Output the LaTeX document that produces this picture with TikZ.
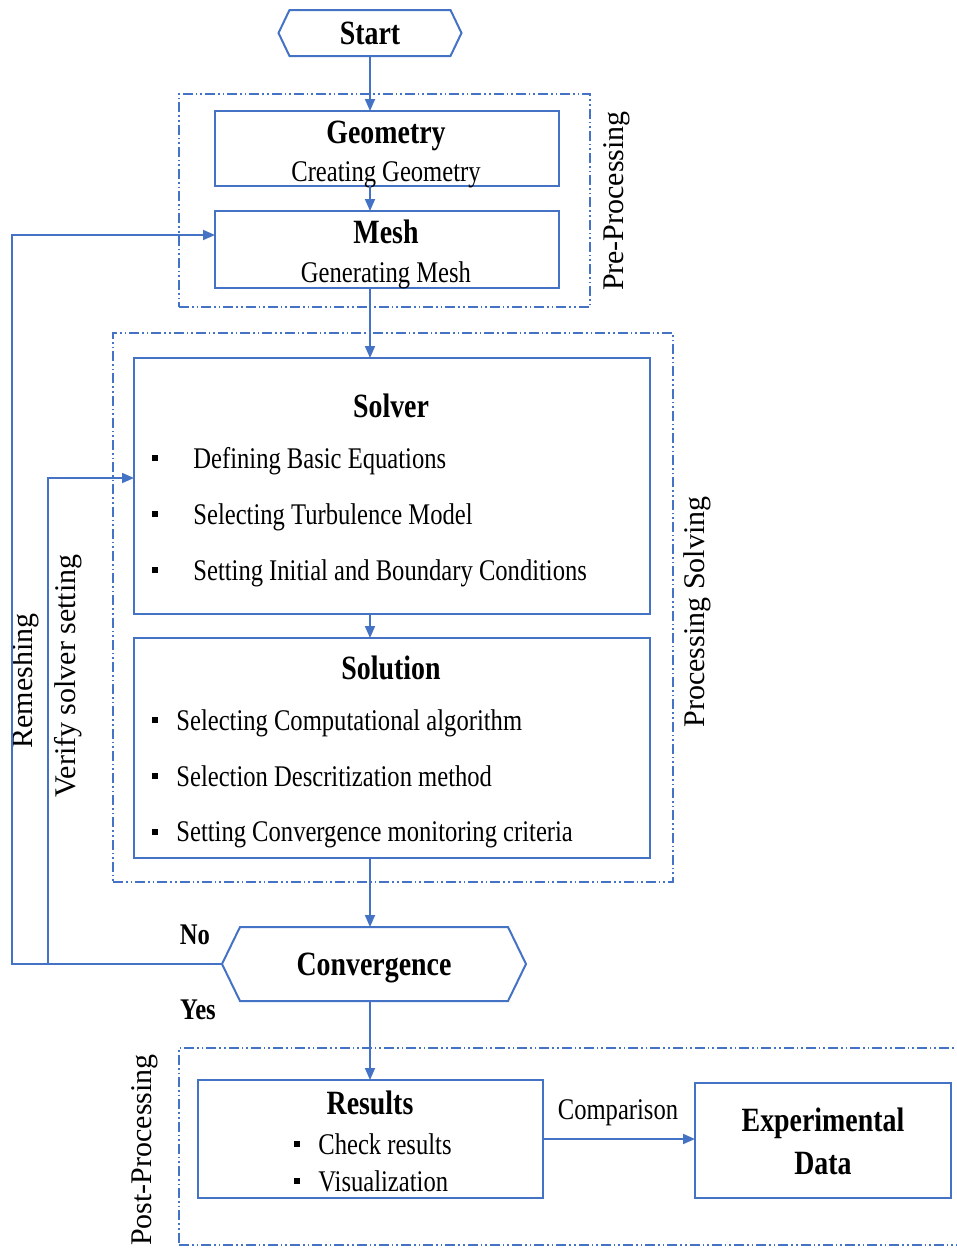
\documentclass[tikz,border=0pt]{standalone}
\usepackage{fontspec}
\setmainfont{Liberation Serif}[FakeStretch=0.82]
\newfontfamily\sideserif{Liberation Serif}
\usetikzlibrary{arrows.meta}
\definecolor{flowblue}{HTML}{4472C4}

\begin{document}
\begin{tikzpicture}[x=0.5pt,y=-0.5pt,
box/.style={draw=flowblue,line width=1pt,anchor=north west,outer sep=0pt,inner sep=0pt},
grp/.style={draw=flowblue,line width=0.9pt,anchor=north west,outer sep=0pt,inner sep=0pt,
  dash pattern=on 5pt off 1.5pt on 0.8pt off 1.5pt on 0.8pt off 1.5pt},
hexa/.style={outer sep=0pt,inner sep=0pt},
arr/.style={flowblue,line width=0.9pt,-{Triangle[length=6pt,width=5pt]}},
tit/.style={font=\fontsize{17}{20}\selectfont\bfseries,text depth=0pt},
txt/.style={font=\fontsize{15}{18}\selectfont,text depth=0pt},
item/.style={txt,anchor=west,inner xsep=0pt},
side/.style={font=\fontsize{15}{18}\selectfont\sideserif,rotate=90},
bul/.style={fill=black,inner sep=0pt,minimum size=3.4pt}]
\useasboundingbox (0,0) rectangle (957,1249);
\node[grp,minimum width=205.5pt,minimum height=106.5pt] (pre) at (179,94) {};
\node[grp,minimum width=280pt,minimum height=274.5pt] (proc) at (113,333) {};
\node[grp,minimum width=393pt,minimum height=98.5pt] (post) at (179,1048) {};
\node[hexa,minimum width=91.5pt,minimum height=23pt,tit] (start) at (370,33) {Start};
\draw[flowblue,line width=1pt] (start.west)--([xshift=5.5pt]start.north west)--([xshift=-5.5pt]start.north east)
  --(start.east)--([xshift=-5.5pt]start.south east)--([xshift=5.5pt]start.south west)--cycle;
\node[box,minimum width=172pt,minimum height=37.5pt] (geom) at (215,111) {};
\node[box,minimum width=172pt,minimum height=38.5pt] (mesh) at (215,211) {};
\node[box,minimum width=258pt,minimum height=128pt] (solver) at (134,358) {};
\node[box,minimum width=258pt,minimum height=110pt] (solution) at (134,638) {};
\node[hexa,minimum width=152pt,minimum height=37pt,tit] (conv) at (374,964) {Convergence};
\draw[flowblue,line width=1pt] (conv.west)--([xshift=9pt]conv.north west)--([xshift=-9pt]conv.north east)
  --(conv.east)--([xshift=-9pt]conv.south east)--([xshift=9pt]conv.south west)--cycle;
\node[box,minimum width=172.5pt,minimum height=59pt] (results) at (198,1080) {};
\node[box,minimum width=128pt,minimum height=57.5pt] (exp) at (695,1083) {};
\node[tit] (geomt) at (386,132) {Geometry};
\node[txt] (geoms) at (386,172) {Creating Geometry};
\node[tit] (mesht) at (386,232) {Mesh};
\node[txt] (meshs) at (386,272) {Generating Mesh};
\node[tit] (solvert) at (391,406) {Solver};
\foreach \y/\t [count=\i] in {458/Defining Basic Equations,514/Selecting Turbulence Model,570/Setting Initial and Boundary Conditions}{
  \node[bul] (sb\i) at (155,\y) {};
  \node[item] (si\i) at (193,\y) {\t};}
\node[tit] (solutiont) at (391,668) {Solution};
\foreach \y/\t [count=\i] in {720/Selecting Computational algorithm,776/Selection Descritization method,832/Setting Convergence monitoring criteria}{
  \node[bul] (ub\i) at (155,\y) {};
  \node[item] (ui\i) at (176,\y) {\t};}
\node[tit] (resultst) at (370,1103) {Results};
\foreach \y/\t [count=\i] in {1144/Check results,1181/Visualization}{
  \node[bul] (rb\i) at (297,\y) {};
  \node[item] (ri\i) at (318,\y) {\t};}
\node[tit] (expt) at (823,1120) {Experimental};
\node[tit] (exps) at (823,1163) {Data};
\node[txt] (cmp) at (618,1110) {Comparison};
\node[tit,font=\fontsize{15}{18}\selectfont\bfseries] (no) at (195,935) {No};
\node[tit,font=\fontsize{15}{18}\selectfont\bfseries] (yes) at (198,1010) {Yes};
\node[side] (prel) at (617,201) {Pre-Processing};
\node[side] (procl) at (697,612) {Processing Solving};
\node[side] (reml) at (25,681) {Remeshing};
\node[side] (verl) at (68,676) {Verify solver setting};
\node[side] (postl) at (145,1150) {Post-Processing};
\draw[arr] (start.south)--(start.south |- geom.north);
\draw[arr] (start.south |- geom.south)--(start.south |- mesh.north);
\draw[arr] (start.south |- mesh.south)--(start.south |- solver.north);
\draw[arr] (start.south |- solver.south)--(start.south |- solution.north);
\draw[arr] (start.south |- solution.south)--(start.south |- conv.north);
\draw[arr] (start.south |- conv.south)--(start.south |- results.north);
\draw[arr] (results.east)--(results.east -| exp.west);
\coordinate (rm) at (12,964);
\coordinate (rmtop) at (12,235);
\coordinate (vs) at (48,964);
\coordinate (vstop) at (48,478);
\draw[arr] (conv.west)--(rm)--(rmtop)--(rmtop -| mesh.west);
\draw[arr] (vs)--(vstop)--(vstop -| solver.west);
\end{tikzpicture}
\end{document}
